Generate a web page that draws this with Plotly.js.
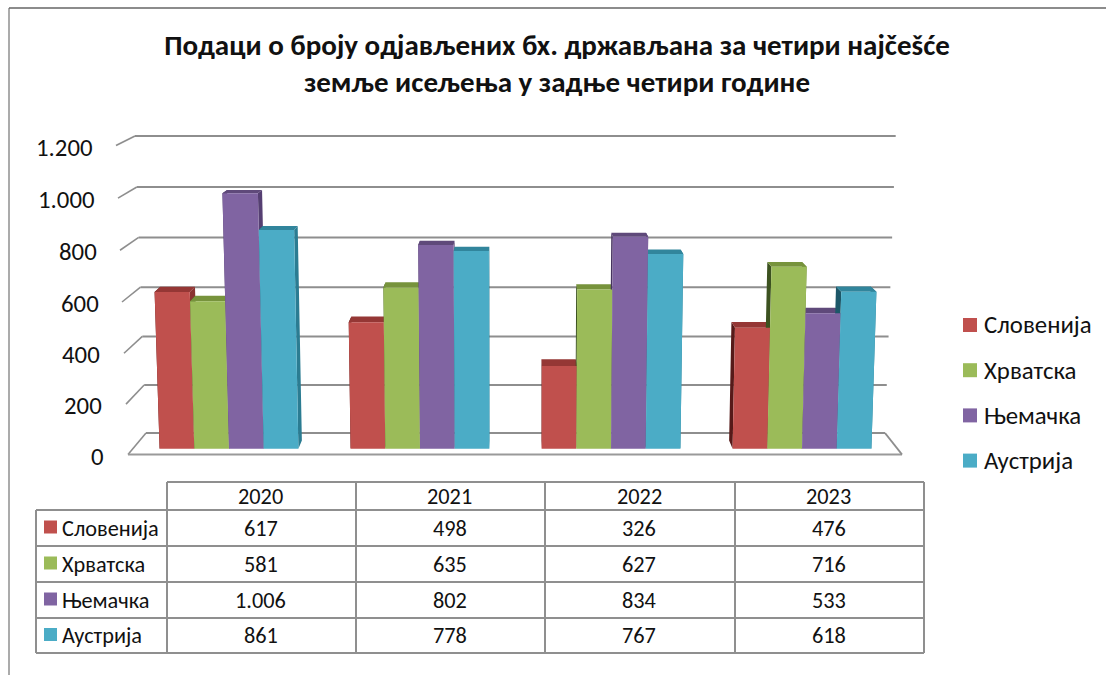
<!DOCTYPE html>
<html><head><meta charset="utf-8">
<script src="https://cdn.plot.ly/plotly-3.0.1.min.js"></script>
<style>html,body{margin:0;padding:0;background:#fff}</style></head>
<body><div id="chart" style="width:1106px;height:675px"></div>
<script>
const years = ['2020','2021','2022','2023'];
const seriesNames = ['Словенија','Хрватска','Њемачка','Аустрија'];
const slovenia = [617,498,326,476];
const croatia = [581,635,627,716];
const germany = [1006,802,834,533];
const austria = [861,778,767,618];
const seriesValues = [slovenia,croatia,germany,austria];
const yTicks = [0,200,400,600,800,1000,1200];
const frontColors = ['#C0504D','#9BBB59','#8064A2','#4BACC6'];
const topColors = ['#953735','#77933C','#5F497A','#31859C'];
const rightColors = ['#8A3331','#6B8535','#553F72','#2B7C92'];
const leftColors = ['#561A19','#3C5220','#46345F','#1C5768'];

const W=1106,H=675, FONT='Carlito, Lato, "Noto Sans", sans-serif';
// pixel calibration of the axes
const x0=229, xPer=191, y0=448.7, yPer=0.254;
const dx=px=>(px-x0)/xPer, dy=py=>(y0-py)/yPer;
const px=v=>v/W, py=v=>1-v/H;
// pseudo-3D projection (front plane leans, depth shrinks toward a vanishing point)
const cx=1.5, lean=2.28e-5, depthX=0.016, depthY=0.0195, vanish=dy(25);
function proj(x,v,d){
  const xf=cx+(x-cx)*(1+v*lean);
  return [cx+(xf-cx)*(1-depthX*d), vanish+(v-vanish)*(1-depthY*d)];
}
const barW=34.7/xPer;
function poly(pts){const X=[],Y=[];pts.forEach(p=>{X.push(p[0]);Y.push(p[1]);});X.push(pts[0][0],null);Y.push(pts[0][1],null);return [X,Y];}
function collect(si,faceFn){
  let X=[],Y=[];
  seriesValues[si].forEach((v,gi)=>{
    const l=gi+(si-2)*barW, r=l+barW;
    const [a,b]=poly(faceFn(l,r,v));
    X=X.concat(a);Y=Y.concat(b);
  });
  return {x:X,y:Y};
}
const face=(si,fn,color,name)=>Object.assign(collect(si,fn),{type:'scatter',mode:'none',fill:'toself',fillcolor:color,hoverinfo:'skip',showlegend:false,name:name});
const traces=[];
seriesNames.forEach((n,si)=>{
  traces.push(face(si,(l,r,v)=>[proj(l,0,0),proj(l,v,0),proj(l,v,1),proj(l,0,1)],leftColors[si],n+' лијево'));
  traces.push(face(si,(l,r,v)=>[proj(r,0,0),proj(r,v,0),proj(r,v,1),proj(r,0,1)],rightColors[si],n+' десно'));
  traces.push(face(si,(l,r,v)=>[proj(l,v,0),proj(r,v,0),proj(r,v,1),proj(l,v,1)],topColors[si],n+' врх'));
});
seriesNames.forEach((n,si)=>{
  traces.push(face(si,(l,r,v)=>[proj(l,0,0),proj(r,0,0),proj(r,v,0),proj(l,v,0)],frontColors[si],n));
});

const shapes=[], annotations=[];
const GRID='#8E8E8E';
const line=(x1,y1,x2,y2,c,w,ref)=>shapes.push({type:'line',xref:ref,yref:ref==='x'?'y':ref,x0:x1,y0:y1,x1:x2,y1:y2,line:{color:c,width:w},layer:'below'});
const fmt=v=>String(v).replace(/\B(?=(\d{3})+$)/g,'.');
// slight bow of the perspective wall, in pixels
const bow=v=>1-Math.pow((v-600)/600,2);
// wall gridlines + left ticks, driven by the tick values
yTicks.forEach(v=>{
  const bl=146-v*11/1200, br=885+v*10.7/1200, by=433-v*0.2475+2.7*bow(v);
  const fl=128-v*12/1200, fy=454.5-v*0.2575+2*bow(v);
  line(dx(bl),dy(by),dx(br),dy(by),GRID,2,'x');
  line(dx(fl),dy(fy),dx(bl),dy(by),GRID,1.6,'x');
  annotations.push({xref:'x',yref:'y',x:dx(106-v*11/1200),y:dy(fy+1.5),text:fmt(v),showarrow:false,xanchor:'right',yanchor:'middle',font:{family:FONT,size:24.8,color:'#111'}});
});
// floor
line(dx(128),dy(454.5),dx(902),dy(454.5),'#9A9A9A',2.2,'x');
line(dx(885),dy(433),dx(902),dy(454.5),GRID,2,'x');

// frame
shapes.push({type:'line',xref:'paper',yref:'paper',x0:px(9),x1:px(9),y0:py(8),y1:py(675),line:{color:'#ABABAB',width:2}});
shapes.push({type:'line',xref:'paper',yref:'paper',x0:px(9),x1:px(1106),y0:py(8),y1:py(8),line:{color:'#666',width:1.5}});

// data table
const colX=[167,356,545,735,924], rowY=[482,510,546,582,618,653];
const tline=(a,b,c,d)=>shapes.push({type:'line',xref:'paper',yref:'paper',x0:px(a),x1:px(c),y0:py(b),y1:py(d),line:{color:'#8F8F8F',width:2}});
tline(167,rowY[0],924,rowY[0]);
rowY.slice(1).forEach(y=>tline(36,y,924,y));
colX.forEach(x=>tline(x,rowY[0],x,rowY[5]));
tline(36,rowY[1],36,rowY[5]);
const cellFont={family:FONT,size:22.3,color:'#111'};
const txt=(x,y,t,anchor,font)=>annotations.push({xref:'paper',yref:'paper',x:px(x),y:py(y),text:t,showarrow:false,xanchor:anchor,yanchor:'middle',font:font});
years.forEach((yr,i)=>{
  const c=(colX[i]+colX[i+1])/2-1;
  txt(c,496,yr,'center',cellFont);
  seriesValues.forEach((vals,si)=>txt(c,(rowY[si+1]+rowY[si+2])/2,fmt(vals[i]),'center',cellFont));
});
const square=(x,y,s,color)=>shapes.push({type:'rect',xref:'paper',yref:'paper',x0:px(x),x1:px(x+s),y0:py(y-s/2),y1:py(y+s/2),fillcolor:color,line:{width:0}});
seriesNames.forEach((n,si)=>{
  const y=(rowY[si+1]+rowY[si+2])/2;
  square(44,y-1,13,frontColors[si]);
  txt(60,y,n,'left',cellFont);
  const ly=325+si*45.2;
  square(963,ly,14,frontColors[si]);
  txt(982,ly,n,'left',{family:FONT,size:24.8,color:'#111'});
});

const layout={
  width:W,height:H,margin:{l:0,r:0,t:0,b:0},paper_bgcolor:'#fff',plot_bgcolor:'#fff',showlegend:false,
  title:{text:'<b>Подаци о броју одјављених бх. држављана за четири најčešće<br>земље исељења у задње четири године</b>',x:557/W,xanchor:'center',y:1-54.5/H,yanchor:'middle',font:{family:FONT,size:29,color:'#111'}},
  xaxis:{range:[dx(0),dx(W)],visible:false,fixedrange:true},
  yaxis:{range:[dy(H),dy(0)],visible:false,fixedrange:true},
  shapes:shapes,annotations:annotations
};
Plotly.newPlot('chart',traces,layout,{displayModeBar:false,staticPlot:true});
</script></body></html>
